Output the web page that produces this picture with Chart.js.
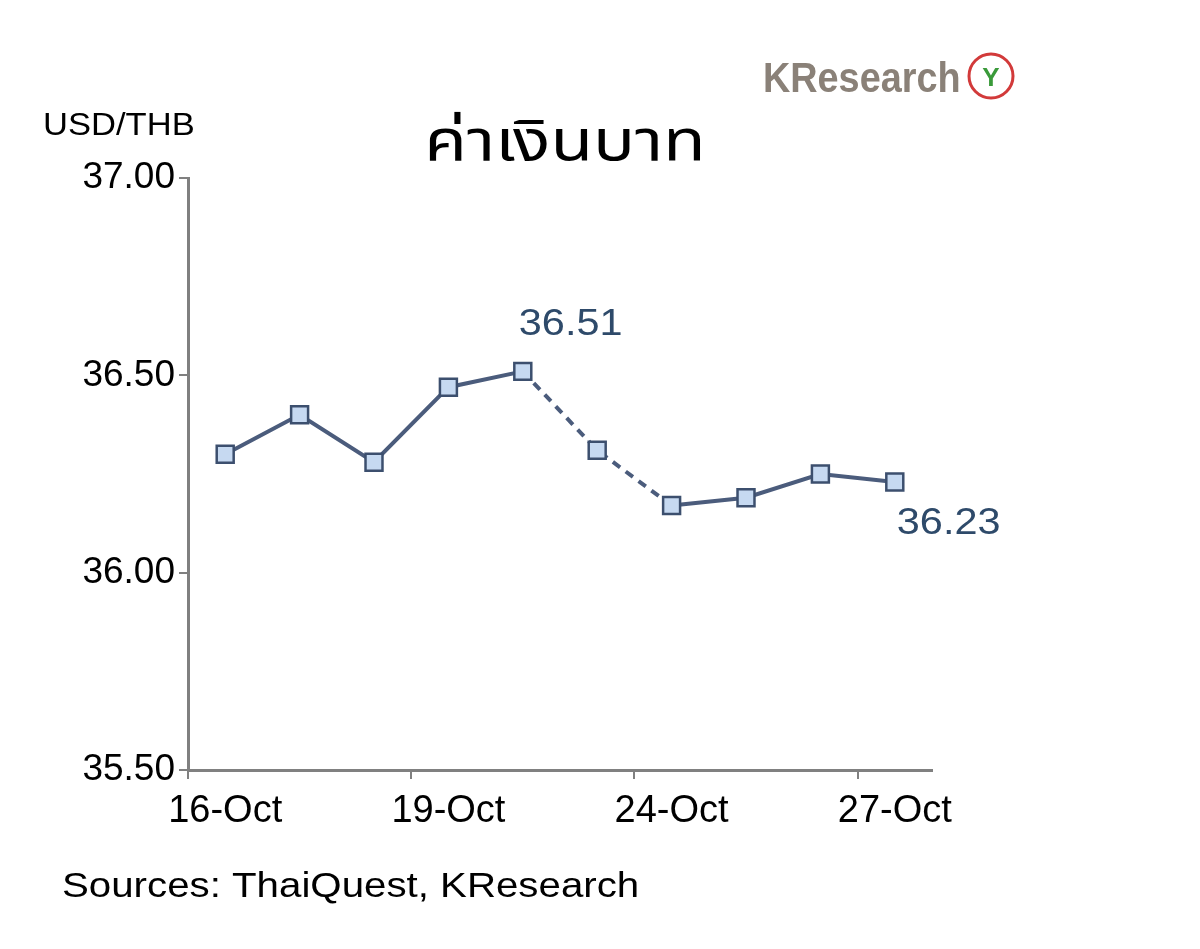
<!DOCTYPE html>
<html>
<head>
<meta charset="utf-8">
<script src="https://cdn.jsdelivr.net/npm/chart.js@4"></script>
<style>
  html, body { margin: 0; padding: 0; background: #fff; }
  #wrap { width: 1200px; height: 949px; }
</style>
</head>
<body>
<div id="wrap"><canvas id="fxChart" width="1200" height="949"></canvas></div>
<script>
const dates = ["16-Oct", "17-Oct", "18-Oct", "19-Oct", "20-Oct", "23-Oct", "24-Oct", "25-Oct", "26-Oct", "27-Oct"];
const usdThb = [36.30, 36.40, 36.28, 36.47, 36.51, 36.31, 36.17, 36.19, 36.25, 36.23];
const yTicks = [35.5, 36.0, 36.5, 37.0];
const labelled = { 4: "36.51", 9: "36.23" };

const FONT = "'Liberation Sans', Arial, sans-serif";

// draw text stretched horizontally
function wideText(c, text, x, y, font, sx, align) {
  c.save();
  c.font = font;
  c.textAlign = align || "left";
  c.translate(x, y);
  c.scale(sx, 1);
  c.fillText(text, 0, 0);
  c.restore();
}

const decor = {
  id: "decor",
  afterDraw(chart) {
    const c = chart.ctx;
    c.save();
    c.fillStyle = "#000";
    c.textBaseline = "alphabetic";
    wideText(c, "USD/THB", 43, 135, "32px " + FONT, 1.08);
    wideText(c, "Sources: ThaiQuest, KResearch", 62, 897, "35px " + FONT, 1.15);
    wideText(c, "ค่าเงินบาท", 565, 160, "58px 'Noto Sans Thai', 'Noto Sans', 'DejaVu Sans', sans-serif", 1.2, "center");
    // logo
    c.fillStyle = "#8a8178";
    wideText(c, "KResearch", 763, 92, "bold 42px " + FONT, 0.9);
    c.beginPath();
    c.arc(991, 76, 22, 0, Math.PI * 2);
    c.strokeStyle = "#d23a3a";
    c.lineWidth = 3;
    c.stroke();
    c.fillStyle = "#3a9a3a";
    wideText(c, "Y", 991, 86, "bold 26px " + FONT, 1, "center");
    // data labels
    const meta = chart.getDatasetMeta(0);
    c.fillStyle = "#2e4a6a";
    Object.keys(labelled).forEach(i => {
      const p = meta.data[i];
      if (+i === 4) wideText(c, labelled[i], p.x - 4, p.y - 36, "37px " + FONT, 1.12);
      else wideText(c, labelled[i], p.x + 2, p.y + 52, "37px " + FONT, 1.12);
    });
    c.restore();
  }
};

new Chart(document.getElementById("fxChart").getContext("2d"), {
  type: "line",
  data: {
    labels: dates,
    datasets: [{
      data: usdThb,
      borderColor: "#4b5c7c",
      borderWidth: 4,
      pointStyle: "rect",
      pointRadius: 12,
      pointBackgroundColor: "#c6d9f1",
      pointBorderColor: "#3c4f6e",
      pointBorderWidth: 2.5,
      tension: 0,
      segment: {
        borderDash: ctx => (ctx.p0DataIndex === 4 || ctx.p0DataIndex === 5) ? [9, 7] : undefined
      }
    }]
  },
  options: {
    responsive: false,
    animation: false,
    layout: { padding: { left: 0, right: 268, top: 178, bottom: 0 } },
    plugins: { legend: { display: false }, tooltip: { enabled: false } },
    scales: {
      x: {
        offset: true,
        grid: {
          offset: true,
          drawOnChartArea: false,
          drawTicks: true,
          tickLength: 9,
          color: ctx => (ctx.index % 3 === 0) ? "#808080" : "rgba(0,0,0,0)",
          lineWidth: 2
        },
        border: { color: "#808080", width: 3 },
        ticks: {
          autoSkip: false,
          maxRotation: 0,
          padding: 10,
          color: "#000",
          font: { family: FONT, size: 38 },
          callback: (v, i) => (i % 3 === 0) ? dates[i] : ""
        },
        afterFit: s => { s.height = 179; }
      },
      y: {
        min: 35.5,
        max: 37.0,
        afterBuildTicks: s => { s.ticks = yTicks.map(v => ({ value: v })); },
        grid: { drawOnChartArea: false, tickLength: 9, color: "#808080", lineWidth: 2 },
        border: { color: "#808080", width: 3 },
        ticks: {
          color: "#000",
          padding: 4,
          font: { family: FONT, size: 37 },
          callback: v => v.toFixed(2)
        },
        afterFit: s => { s.width = 188; }
      }
    }
  },
  plugins: [decor]
});
</script>
</body>
</html>
